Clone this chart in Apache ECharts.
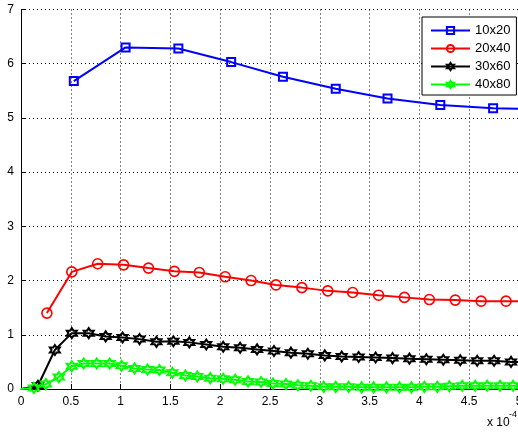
<!DOCTYPE html>
<html>
<head>
<meta charset="utf-8">
<script src="https://cdn.jsdelivr.net/npm/echarts@6/dist/echarts.min.js"></script>
<style>
  html, body { margin: 0; padding: 0; background: #fff; }
  #chart { width: 518px; height: 432px; }
</style>
</head>
<body>
<div id="chart"></div>
<script>
// Mesh labels
const meshNames = ['10x20', '20x40', '30x60', '40x80'];

// 10x20 mesh
const x10x20 = [0.53, 1.05, 1.58, 2.11, 2.63, 3.16, 3.68, 4.21, 4.74, 5.26];
const y10x20 = [5.68, 6.30, 6.28, 6.03, 5.76, 5.54, 5.36, 5.24, 5.18, 5.16];

// 20x40 mesh
const x20x40 = [0.26, 0.51, 0.77, 1.03, 1.28, 1.54, 1.79, 2.05, 2.31, 2.56,
                2.82, 3.08, 3.33, 3.59, 3.85, 4.10, 4.36, 4.62, 4.87, 5.13];
const y20x40 = [1.40, 2.16, 2.31, 2.29, 2.23, 2.17, 2.15, 2.07, 2.00, 1.92,
                1.87, 1.81, 1.78, 1.73, 1.69, 1.65, 1.64, 1.62, 1.62, 1.62];

// 30x60 mesh
const x30x60 = [0, 0.17, 0.34, 0.51, 0.68, 0.85, 1.02, 1.19, 1.36, 1.53, 1.69,
                1.86, 2.03, 2.20, 2.37, 2.54, 2.71, 2.88, 3.05, 3.22, 3.39,
                3.56, 3.73, 3.90, 4.07, 4.24, 4.41, 4.58, 4.75, 4.92, 5.08];
const y30x60 = [0, 0.06, 0.72, 1.03, 1.03, 0.97, 0.95, 0.92, 0.87, 0.88, 0.86,
                0.82, 0.78, 0.76, 0.73, 0.70, 0.67, 0.65, 0.62, 0.60, 0.59,
                0.58, 0.57, 0.56, 0.55, 0.54, 0.53, 0.52, 0.52, 0.50, 0.50];

// 40x80 mesh
const x40x80 = [0, 0.13, 0.25, 0.38, 0.51, 0.63, 0.76, 0.89, 1.01, 1.14, 1.27,
                1.39, 1.52, 1.65, 1.77, 1.90, 2.03, 2.15, 2.28, 2.41, 2.53,
                2.66, 2.78, 2.91, 3.04, 3.16, 3.29, 3.42, 3.54, 3.67, 3.80,
                3.92, 4.05, 4.18, 4.30, 4.43, 4.56, 4.68, 4.81, 4.94, 5.06];
const y40x80 = [0, 0.02, 0.09, 0.22, 0.42, 0.47, 0.47, 0.47, 0.43, 0.38, 0.36,
                0.35, 0.30, 0.25, 0.23, 0.20, 0.19, 0.17, 0.14, 0.13, 0.10,
                0.09, 0.07, 0.06, 0.04, 0.04, 0.04, 0.03, 0.03, 0.03, 0.03,
                0.03, 0.04, 0.04, 0.05, 0.06, 0.06, 0.06, 0.06, 0.06, 0.06];

// Axis ticks
const xTicks = { min: 0, max: 5, step: 0.5 };
const yTicks = { min: 0, max: 7, step: 1 };

const FONT = '"Liberation Sans", Arial, Helvetica, sans-serif';
const HEXAGRAM = 'path://M0,-10L2.887,-5L8.66,-5L5.774,0L8.66,5L2.887,5L0,10L-2.887,5L-8.66,5L-5.774,0L-8.66,-5L-2.887,-5Z';

function pairs(xs, ys, hideOrigin) {
  return xs.map((x, i) => {
    if (hideOrigin && x === 0) return { value: [x, ys[i]], symbol: 'none' };
    return [x, ys[i]];
  });
}

function makeSeries(name, xs, ys, color, symbol, size, border, hideOrigin) {
  return {
    name: name,
    type: 'line',
    data: pairs(xs, ys, hideOrigin),
    symbol: symbol,
    symbolSize: size,
    showAllSymbol: true,
    clip: true,
    lineStyle: { color: color, width: 2 },
    itemStyle: { color: 'rgba(255,255,255,0)', borderColor: color, borderWidth: border },
    emphasis: { disabled: true },
    animation: false
  };
}

const chart = echarts.init(document.getElementById('chart'), null, { renderer: 'canvas' });

const axisCommon = {
  axisLine: { show: true, lineStyle: { color: '#000', width: 1 } },
  axisTick: { show: true, inside: true, length: 5, lineStyle: { color: '#000' } },
  splitLine: { show: true, lineStyle: { color: '#000', width: 1, type: [1, 3] } },
  axisLabel: { color: '#000', fontSize: 12, fontFamily: FONT }
};

chart.setOption({
  backgroundColor: '#fff',
  animation: false,
  textStyle: { fontFamily: FONT },
  grid: {
    left: 21, top: 9.5, width: 498, height: 379.5,
    containLabel: false, outerBoundsMode: 'none'
  },
  xAxis: Object.assign({}, axisCommon, {
    type: 'value',
    min: xTicks.min, max: xTicks.max, interval: xTicks.step,
    axisLabel: Object.assign({}, axisCommon.axisLabel, { margin: 7 })
  }),
  yAxis: Object.assign({}, axisCommon, {
    type: 'value',
    min: yTicks.min, max: yTicks.max, interval: yTicks.step,
    axisLabel: Object.assign({}, axisCommon.axisLabel, { margin: 7 })
  }),
  legend: {
    orient: 'vertical',
    left: 422, top: 17,
    padding: [7, 6, 4, 8],
    itemWidth: 39, itemHeight: 9, itemGap: 5,
    backgroundColor: '#fff',
    borderColor: '#000', borderWidth: 1,
    textStyle: { color: '#000', fontSize: 13, fontFamily: FONT },
    selectedMode: false,
    z: 10,
    data: meshNames
  },
  graphic: [
    {
      type: 'text', left: 487, top: 417, z: 10,
      style: { text: 'x 10', fill: '#000', fontSize: 12, fontFamily: FONT }
    },
    {
      type: 'text', left: 509, top: 410, z: 10,
      style: { text: '-4', fill: '#000', fontSize: 9, fontFamily: FONT }
    }
  ],
  series: [
    makeSeries(meshNames[0], x10x20, y10x20, '#0000ff', 'rect', 8, 2, false),
    makeSeries(meshNames[1], x20x40, y20x40, '#ff0000', 'circle', 10, 1.6, false),
    makeSeries(meshNames[2], x30x60, y30x60, '#000000', HEXAGRAM, 10, 2, true),
    makeSeries(meshNames[3], x40x80, y40x80, '#00ff00', HEXAGRAM, 10, 2, true)
  ]
});
</script>
</body>
</html>
